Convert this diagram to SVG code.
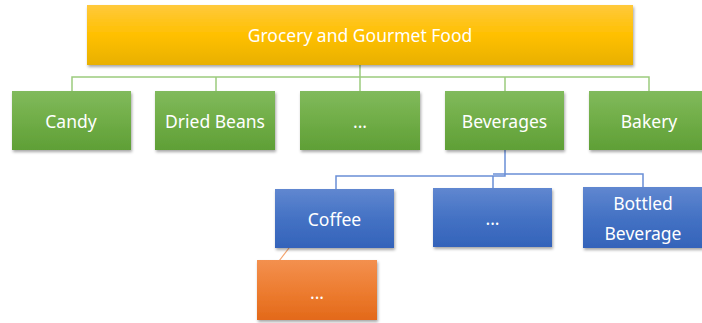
<svg xmlns="http://www.w3.org/2000/svg" width="702" height="323" viewBox="0 0 702 323">
<defs>
<linearGradient id="gY" x1="0" y1="0" x2="0" y2="1"><stop offset="0" stop-color="#FFC93C"/><stop offset="0.5" stop-color="#FFC000"/><stop offset="1" stop-color="#E8B000"/></linearGradient>
<linearGradient id="gG" x1="0" y1="0" x2="0" y2="1"><stop offset="0" stop-color="#81BA5C"/><stop offset="0.5" stop-color="#70AD47"/><stop offset="1" stop-color="#5F9F36"/></linearGradient>
<linearGradient id="gB" x1="0" y1="0" x2="0" y2="1"><stop offset="0" stop-color="#6087D0"/><stop offset="0.5" stop-color="#4472C4"/><stop offset="1" stop-color="#3463BA"/></linearGradient>
<linearGradient id="gO" x1="0" y1="0" x2="0" y2="1"><stop offset="0" stop-color="#F3904F"/><stop offset="0.5" stop-color="#ED7D31"/><stop offset="1" stop-color="#E3691A"/></linearGradient>
<filter id="sh" x="-10%" y="-10%" width="130%" height="140%"><feDropShadow dx="1" dy="2" stdDeviation="1.5" flood-color="#000" flood-opacity="0.35"/></filter>
</defs>
<style>
.y{fill:url(#gY);filter:url(#sh)}
.g{fill:url(#gG);filter:url(#sh)}
.b{fill:url(#gB);filter:url(#sh)}
.o{fill:url(#gO);filter:url(#sh)}
text{font-family:"Noto Sans","Open Sans","Liberation Sans",sans-serif;font-size:17.5px;fill:#fff;text-anchor:middle;dominant-baseline:central}
.cg{fill:none;stroke:#9CCB7E;stroke-width:1.5}
.cb{fill:none;stroke:#6A8FD6;stroke-width:1.5}
.co{fill:none;stroke:#F4A46F;stroke-width:1.2}
</style>
<g id="connectors">
<path class="cg" d="M360 65V77M72 91V77H649V91M216 77V91M360 77V91M505 77V91"/>
<path class="cb" d="M505 150V176H336V189M493 176V188M493 174H643V187"/>
<path class="co" d="M289 248L279 261"/>
</g>
<g id="root"><rect class="y" x="87" y="5" width="546" height="60"/><text x="360" y="35">Grocery and Gourmet Food</text></g>
<g id="candy"><rect class="g" x="12" y="91" width="119" height="59"/><text x="71" y="120.5">Candy</text></g>
<g id="dried-beans"><rect class="g" x="155" y="91" width="120" height="59"/><text x="215" y="120.5">Dried Beans</text></g>
<g id="etc1"><rect class="g" x="300" y="91" width="120" height="59"/><text x="360" y="120.5">...</text></g>
<g id="beverages"><rect class="g" x="445" y="91" width="119" height="59"/><text x="504.5" y="120.5">Beverages</text></g>
<g id="bakery"><rect class="g" x="589" y="91" width="120" height="59"/><text x="649" y="120.5">Bakery</text></g>
<g id="coffee"><rect class="b" x="275" y="189" width="119" height="59"/><text x="334.5" y="218.5">Coffee</text></g>
<g id="etc2"><rect class="b" x="433" y="188" width="119" height="59"/><text x="492.5" y="217.5">...</text></g>
<g id="bottled"><rect class="b" x="583" y="187" width="120" height="61"/><text x="643" y="203">Bottled</text><text x="643" y="233">Beverage</text></g>
<g id="etc3"><rect class="o" x="257" y="260" width="120" height="60"/><text x="317" y="292">...</text></g>
</svg>
